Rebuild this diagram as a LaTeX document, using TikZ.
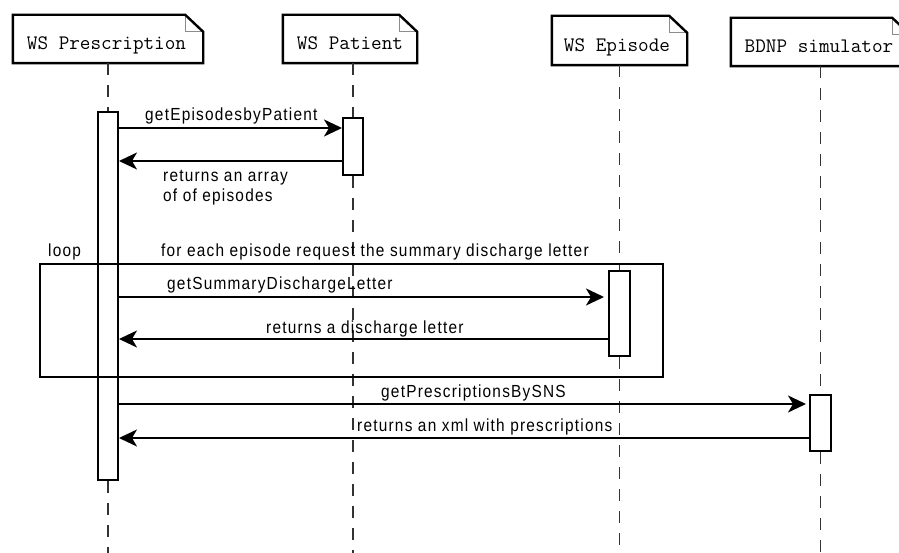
\documentclass[tikz,border=0pt]{standalone}
\usepackage{fontspec}
\setmainfont{Liberation Sans}
\newfontfamily\msgfont[FakeStretch=0.88,LetterSpace=7]{Liberation Sans}
\usetikzlibrary{arrows.meta}
\begin{document}
\begin{tikzpicture}[x=1pt,y=-1pt,
  actorbox/.style={draw=none, fill=white, inner sep=0, minimum height=48pt},
  actorline/.style={draw=black, line width=2.4pt, line join=miter},
  foldline/.style={draw=black!45, line width=1pt},
  actortext/.style={anchor=base, inner sep=0, font=\ttfamily\fontsize{20.6}{22}\selectfont},
  lifeline/.style={line width=1.3pt, dash pattern=on 12pt off 10pt, draw=black!80},
  actbar/.style={draw, fill=white, line width=2pt, minimum width=20pt, inner sep=0},
  msg/.style={line width=2pt, -{Stealth[length=18pt,width=17pt,inset=5pt]}},
  lbl/.style={anchor=base west, inner sep=0, font=\msgfont\fontsize{17.5}{20}\selectfont},
  loopframe/.style={draw, line width=2pt, inner sep=0}]
\clip (0,0) rectangle (899,553);
\coordinate (bottom) at (0,553);
% actor boxes
\node[actorbox, minimum width=190pt] (P) at (108,39) {};
\node[actorbox, minimum width=134pt] (Pa) at (350,39) {};
\node[actorbox, minimum width=135pt, minimum height=49pt] (E) at (619.5,40.5) {};
\node[actorbox, minimum width=179pt] (B) at (820.5,42) {};
\foreach \n in {P,Pa,E,B}{
  \draw[foldline] ([xshift=-18pt]\n.north east) -- ([xshift=-18pt,yshift=-17pt]\n.north east) -- ([yshift=-17pt]\n.north east);
  \draw[actorline] (\n.south west) -- (\n.north west) -- ([xshift=-18pt]\n.north east) -- ([yshift=-17pt]\n.north east) -- (\n.south east) -- cycle;
}
\node[actortext] (Pt) at (106.5,50) {WS Prescription};
\node[actortext] (Pat) at (350,50) {WS Patient};
\node[actortext] (Et) at (617,52) {WS Episode};
\node[actortext] (Bt) at (819,53) {BDNP simulator};
% activation bars
\node[actbar, minimum height=368pt] (AP) at (108,296) {};
\node[actbar, minimum height=57pt] (APa) at (353,146.5) {};
\node[actbar, minimum width=21pt, minimum height=85pt] (AE) at (619.5,313.5) {};
\node[actbar, minimum width=21pt, minimum height=56pt] (AB) at (820.5,423) {};
% lifelines
\draw[lifeline] (AP |- P.south) -- (AP.north);
\draw[lifeline] (AP.south) -- (AP |- bottom);
\draw[lifeline] (APa |- Pa.south) -- (APa.north);
\draw[lifeline] (APa.south) -- (APa |- bottom);
\draw[lifeline] (AE |- E.south) -- (AE.north);
\draw[lifeline] (AE.south) -- (AE |- bottom);
\draw[lifeline] (AB |- B.south) -- (AB.north);
\draw[lifeline] (AB.south) -- (AB |- bottom);
% loop frame
\node[loopframe, minimum width=623pt, minimum height=113pt] (loop) at (351.5,320.5) {};
\node[lbl] (looplbl) at (48,257) {loop};
\node[lbl] (forlbl) at (161,257) {for each episode request the summary discharge letter};
% messages
\coordinate (y1) at (0,128);
\coordinate (y2) at (0,161);
\coordinate (y3) at (0,297);
\coordinate (y4) at (0,339);
\coordinate (y5) at (0,404);
\coordinate (y6) at (0,438);
\draw[msg] (AP.east |- y1) -- (APa.west |- y1);
\draw[msg] (APa.west |- y2) -- (AP.east |- y2);
\draw[msg, shorten >=4pt] (AP.east |- y3) -- (AE.west |- y3);
\draw[msg] (AE.west |- y4) -- (AP.east |- y4);
\draw[msg, shorten >=3pt] (AP.east |- y5) -- (AB.west |- y5);
\draw[msg] (AB.west |- y6) -- (AP.east |- y6);
% message labels
\node[lbl] (l1) at (145,121) {getEpisodesbyPatient};
\node[lbl] (l2a) at (163,182) {returns an array};
\node[lbl] (l2b) at (163,202) {of of episodes};
\node[lbl] (l3) at (167,290) {getSummaryDischargeLetter};
\node[lbl] (l4) at (266,333) {returns a discharge letter};
\node[lbl] (l5) at (381,397) {getPrescriptionsBySNS};
\node[lbl] (l6) at (357,431) {returns an xml with prescriptions};
\end{tikzpicture}
\end{document}
